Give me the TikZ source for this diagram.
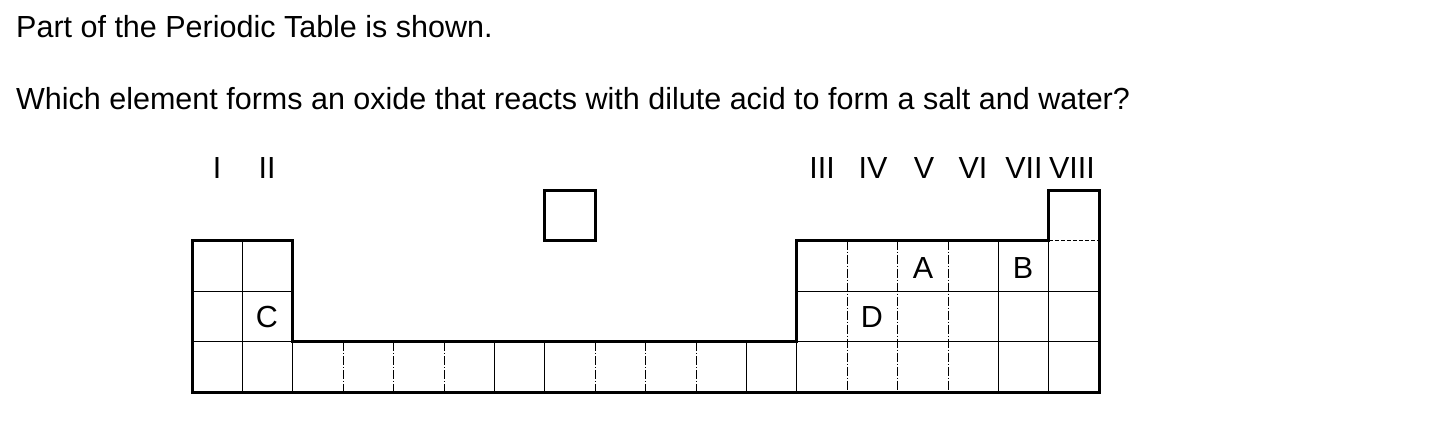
\documentclass[tikz,border=0pt]{standalone}
\usepackage{fontspec}
\setmainfont{Liberation Sans}
\begin{document}
\begin{tikzpicture}[x=1bp,y=-1bp,
  thin line/.style={line width=1bp, black},
  dashdot line/.style={line width=1bp, black, dash pattern=on 9bp off 2bp on 1bp off 2bp},
  dashed line/.style={line width=1bp, black, dash pattern=on 4bp off 2bp},
  border/.style={line width=3bp, black, line join=miter},
  txt/.style={inner sep=0pt, font=\fontsize{30.5bp}{36bp}\selectfont},
  lbl/.style={txt, anchor=base}]
\useasboundingbox (0,0) rectangle (1444,430);
\foreach \i in {0,...,18}{
  \foreach \j in {0,...,4}{
    \coordinate (p\i-\j) at ({192+50.4*\i},{190+50.6*\j});
  }
}
% question text
\node[txt, anchor=base west] (q1) at (16,37) {Part of the Periodic Table is shown.};
\node[txt, anchor=base west] (q2) at (16,109) {Which element forms an oxide that reacts with dilute acid to form a salt and water?};
% group labels
\node[lbl] (g1) at (217,178) {I};
\node[lbl] (g2) at (267,178) {II};
\node[lbl] (g3) at (822,178) {III};
\node[lbl] (g4) at (873,178) {IV};
\node[lbl] (g5) at (924,178) {V};
\node[lbl] (g6) at (973,178) {VI};
\node[lbl] (g7) at (1024,178) {VII};
\node[lbl] (g8) at (1072,178) {VIII};
% left block inner lines
\draw[thin line] (p1-1) -- (p1-4);
\draw[thin line] (p0-2) -- (p2-2);
\draw[thin line] (p0-3) -- (p2-3);
% row 4 verticals
\foreach \i in {2,6,7,11,12} \draw[thin line] (p\i-3) -- (p\i-4);
\foreach \i in {3,4,5,8,9,10} \draw[dashdot line] (p\i-3) -- (p\i-4);
% right block
\foreach \i in {13,14,15} \draw[dashdot line] (p\i-1) -- (p\i-4);
\foreach \i in {16,17} \draw[thin line] (p\i-1) -- (p\i-4);
\draw[thin line] (p12-2) -- (p18-2);
\draw[thin line] (p12-3) -- (p18-3);
\draw[dashed line] (p17-1) -- (p18-1);
% outlines
\draw[border] (p0-1) -- (p2-1) -- (p2-3) -- (p12-3) -- (p12-1) -- (p17-1) -- (p17-0) -- (p18-0) -- (p18-4) -- (p0-4) -- cycle;
\draw[border] (p7-0) rectangle (p8-1);
% element letters
\node[lbl] (A) at (923,278) {A};
\node[lbl] (B) at (1023,278) {B};
\node[lbl] (C) at (267,327) {C};
\node[lbl] (D) at (872,327) {D};
\end{tikzpicture}
\end{document}
